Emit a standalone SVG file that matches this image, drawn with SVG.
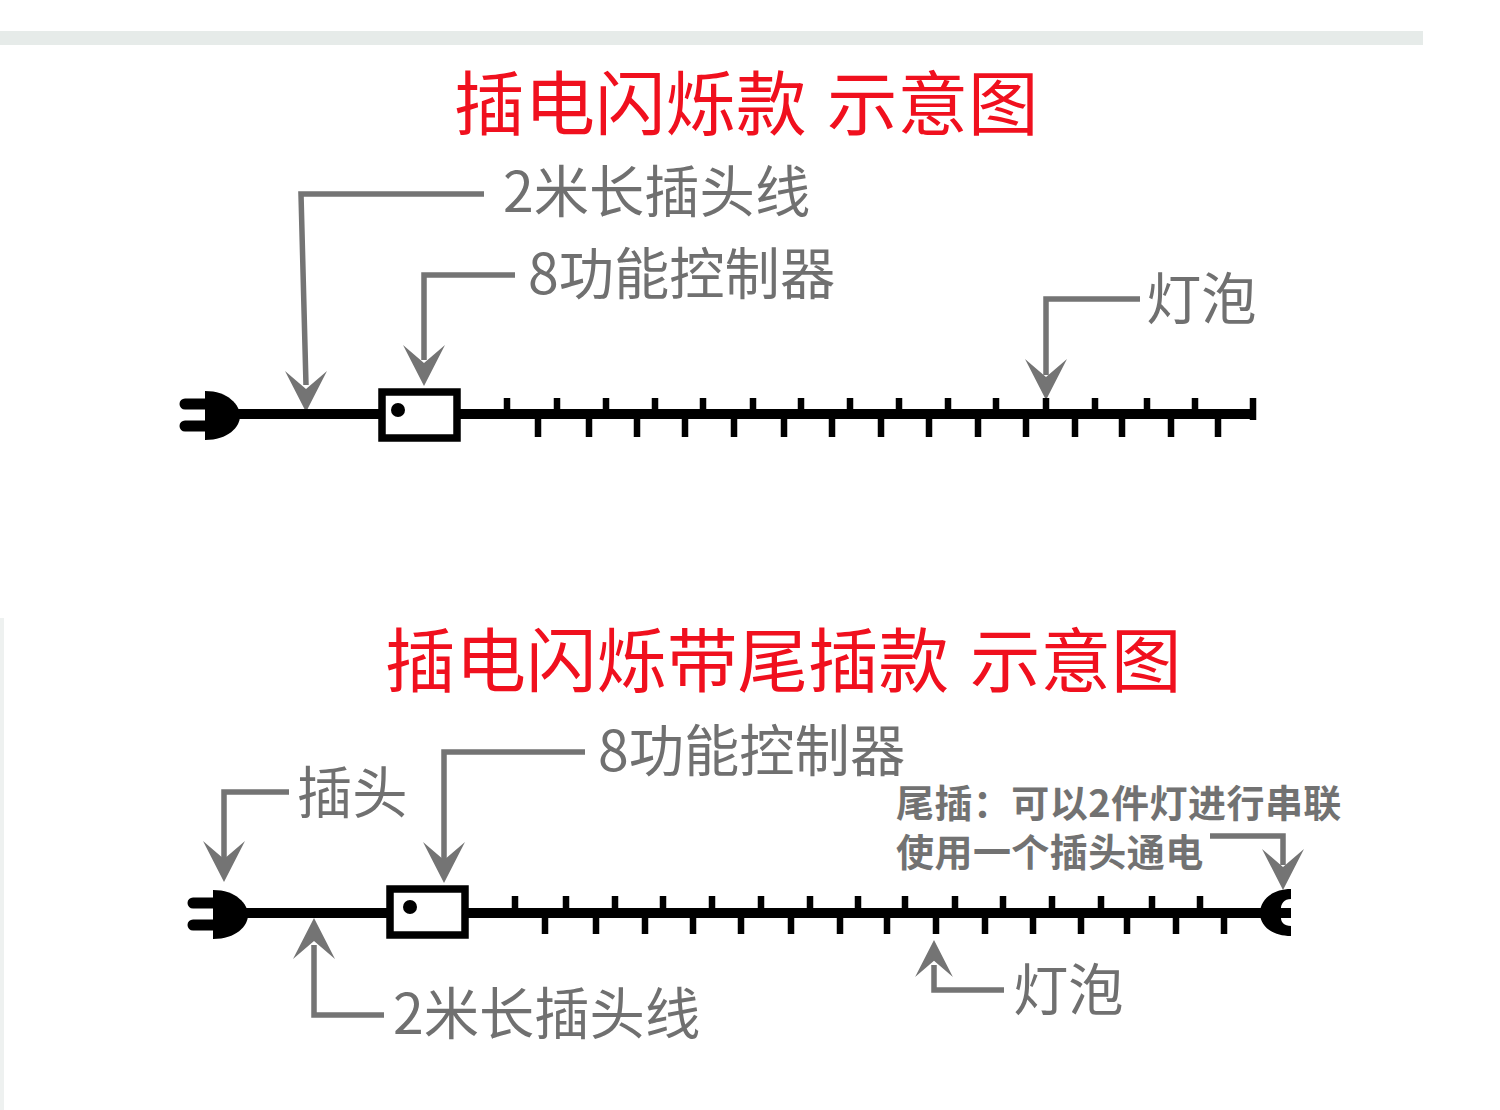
<svg xmlns="http://www.w3.org/2000/svg" width="1500" height="1110" viewBox="0 0 1500 1110">
<style>
text{font-family:"Noto Sans CJK SC","Noto Sans",sans-serif}
.t{fill:#f0101e;font-size:70.5px}
.l{fill:#707070;font-size:55.3px}
.b{fill:#727272;font-size:38px;font-weight:700;letter-spacing:.45px}
.c{fill:none;stroke:#747474;stroke-width:5.5}
.w{fill:none;stroke:#000;stroke-width:10}
.k{fill:none;stroke:#000;stroke-width:6.5}
.box{fill:#fff;stroke:#000;stroke-width:7.5}
</style>
<defs>
<path id="ah" d="M0 0L-21-41L0-23L21-41Z" fill="#747474"/>
<g id="plug"><path d="M-1-24C22-24 34-10 34 1C34 12 22 25 -1 25Z" fill="#000"/><path d="M-21-11H2M-21 11H2" stroke="#000" stroke-width="11" stroke-linecap="round"/><path d="M30 0H52" stroke="#000" stroke-width="8"/></g>
</defs>
<rect id="band" x="0" y="31" width="1423" height="14" fill="#e6ebe9"/>
<rect id="edge" x="0" y="618" width="4" height="492" fill="#eef1f0"/>
<text class="t" x="454" y="130">插电闪烁款 <tspan x="827">示意图</tspan></text>
<text class="t" x="385" y="687">插电闪烁带尾插款 <tspan x="970">示意图</tspan></text>

<g id="connectors">
<path class="c" d="M484 194H301L306 385"/><use href="#ah" x="306" y="412"/>
<path class="c" d="M515 275H424V360"/><use href="#ah" x="424" y="386"/>
<path class="c" d="M1140 299H1046V375"/><use href="#ah" x="1046" y="400"/>
<path class="c" d="M289 792H224V860"/><use href="#ah" x="224" y="882"/>
<path class="c" d="M585 752H444V860"/><use href="#ah" x="444" y="883"/>
<path class="c" d="M384 1015H314V945"/><use href="#ah" transform="translate(314 918) rotate(180)"/>
<path class="c" d="M1004 990H934V965"/><use href="#ah" transform="translate(934 940) rotate(180) scale(.9)"/>
<path class="c" d="M1210 836H1283V865"/><use href="#ah" x="1283" y="890"/>
</g>

<g id="strand-1">
<path class="w" d="M236 414H1255"/>
<path class="k" d="M507 398V414M557 398V414M606 398V414M655 398V414M703 398V414M753 398V414M801 398V414M850 398V414M899 398V414M948 398V414M996 398V414M1046 398V414M1095 398V414M1147 398V414M1195 398V414M1253 398V420"/>
<path class="k" d="M538 414V437M589 414V437M637 414V437M685 414V437M734 414V437M784 414V437M832 414V437M881 414V437M929 414V437M978 414V437M1026 414V437M1075 414V437M1122 414V437M1171 414V437M1218 414V437"/>
</g>
<g id="plug-1"><use href="#plug" x="206" y="415"/></g>
<g id="controller-1"><rect class="box" x="382" y="392" width="75" height="46"/><circle cx="398" cy="410" r="7"/></g>

<g id="strand-2">
<path class="w" d="M244 913H1270"/>
<path class="k" d="M515 896V913M566 896V913M615 896V913M663 896V913M712 896V913M761 896V913M810 896V913M858 896V913M905 896V913M955 896V913M1003 896V913M1052 896V913M1101 896V913M1152 896V913M1200 896V913"/>
<path class="k" d="M545 913V934M596 913V934M645 913V934M693 913V934M741 913V934M791 913V934M840 913V934M887 913V934M936 913V934M985 913V934M1033 913V934M1081 913V934M1127 913V934M1176 913V934M1224 913V934"/>
</g>
<g id="plug-2"><use href="#plug" x="214" y="914"/></g>
<g id="controller-2"><rect class="box" x="390" y="889" width="75" height="46"/><circle cx="410" cy="907" r="7"/></g>
<g id="tail-plug"><path d="M1291 889C1272 889 1260 900 1260 913C1260 926 1272 936 1291 936V926C1284 926 1281 922 1281 918H1291V908H1281C1281 904 1284 899 1291 899Z" fill="#000"/></g>

<text class="l" x="503" y="212">2米长插头线</text>
<text class="l" x="528" y="294">8功能控制器</text>
<text class="l" x="1146" y="319">灯泡</text>
<text class="l" x="297" y="813">插头</text>
<text class="l" x="598" y="771">8功能控制器</text>
<text class="l" x="393" y="1034">2米长插头线</text>
<text class="l" x="1013" y="1010">灯泡</text>
<text class="b" x="896" y="817">尾插：可以2件灯进行串联</text>
<text class="b" x="896" y="866">使用一个插头通电</text>
</svg>
